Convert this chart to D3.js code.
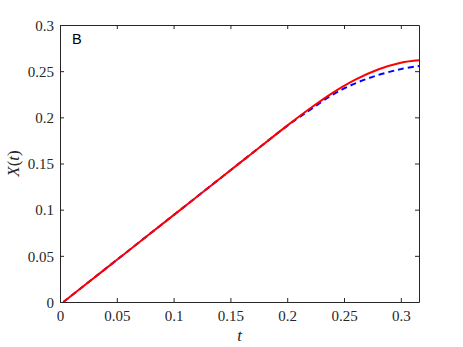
<!DOCTYPE html>
<html>
<head>
<meta charset="utf-8">
<script src="https://d3js.org/d3.v7.min.js"></script>
<style>
  body { margin: 0; background: #fff; }
  svg text { font-family: "Liberation Serif", "DejaVu Serif", serif; }
</style>
</head>
<body>
<div id="chart"></div>
<script>
// values
var tVals     = [0.003, 0.02, 0.04, 0.06, 0.08, 0.10, 0.12, 0.14, 0.16, 0.18, 0.20, 0.22, 0.24, 0.26, 0.28, 0.30, 0.316];
var solidVals = [0, 0.0165, 0.0359, 0.0553, 0.0747, 0.0941, 0.1135, 0.1329, 0.1523, 0.1717, 0.191, 0.2095, 0.2265, 0.2408, 0.2518, 0.2592, 0.2618];
var dashVals  = [0, 0.0165, 0.0359, 0.0553, 0.0747, 0.0941, 0.1135, 0.1329, 0.1523, 0.1717, 0.1908, 0.208, 0.2245, 0.2368, 0.2458, 0.2522, 0.2556];
var xTicks = [0, 0.05, 0.1, 0.15, 0.2, 0.25, 0.3];
var yTicks = [0, 0.05, 0.1, 0.15, 0.2, 0.25, 0.3];

(function() {
    var width = 463, height = 347;
    var left = 60, right = 419, top = 25, bottom = 302;
    var axisColor = "#262626";
    var serif = "'Liberation Serif', 'DejaVu Serif', serif";

    var svg = d3.select("#chart").append("svg")
        .attr("width", width)
        .attr("height", height);

    var x = d3.scaleLinear().domain([0, 0.316]).range([left, right]);
    var y = d3.scaleLinear().domain([0, 0.3]).range([bottom, top]);

    var fmt = function(d) { return d === 0 ? "0" : String(d); };

    // lines
    var solid = tVals.map(function(t, i) { return [t, solidVals[i]]; });
    var dashed = tVals.map(function(t, i) { return [t, dashVals[i]]; });

    var line = d3.line()
        .x(function(d) { return x(d[0]); })
        .y(function(d) { return y(d[1]); })
        .curve(d3.curveCatmullRom.alpha(0.5));

    svg.append("path")
        .attr("d", line(dashed))
        .attr("fill", "none")
        .attr("stroke", "#0000ff")
        .attr("stroke-width", 2)
        .attr("stroke-dasharray", "6,4");

    svg.append("path")
        .attr("d", line(solid))
        .attr("fill", "none")
        .attr("stroke", "#ff0000")
        .attr("stroke-width", 2);

    // axes, ticks inside on all four sides
    var tl = 4;
    svg.append("g")
        .attr("transform", "translate(0," + bottom + ")")
        .call(d3.axisBottom(x).tickValues(xTicks).tickSizeInner(-tl).tickSizeOuter(0).tickFormat(fmt))
        .call(function(g) {
            g.attr("font-family", serif).attr("font-size", 15);
            g.selectAll("text").attr("dy", null).attr("y", 19).attr("fill", axisColor);
        });
    svg.append("g")
        .attr("transform", "translate(0," + top + ")")
        .call(d3.axisTop(x).tickValues(xTicks).tickSizeInner(-tl).tickSizeOuter(0).tickFormat(""));
    svg.append("g")
        .attr("transform", "translate(" + left + ",0)")
        .call(d3.axisLeft(y).tickValues(yTicks).tickSizeInner(-tl).tickSizeOuter(0).tickFormat(fmt))
        .call(function(g) {
            g.attr("font-family", serif).attr("font-size", 15);
            g.selectAll("text").attr("x", -6).attr("dy", "0.35em").attr("fill", axisColor);
        });
    svg.append("g")
        .attr("transform", "translate(" + right + ",0)")
        .call(d3.axisRight(y).tickValues(yTicks).tickSizeInner(-tl).tickSizeOuter(0).tickFormat(""));

    svg.selectAll(".domain, .tick line").attr("stroke", axisColor);

    // panel letter
    svg.append("text")
        .attr("x", 72).attr("y", 44)
        .style("font-family", "'Liberation Sans', Arial, sans-serif")
        .style("font-size", "14.5px")
        .attr("fill", "#000")
        .text("B");

    // axis labels
    svg.append("text")
        .attr("x", (left + right) / 2).attr("y", 341)
        .attr("text-anchor", "middle")
        .attr("font-family", serif)
        .style("font-size", "17px").style("font-style", "italic")
        .attr("fill", axisColor)
        .text("t");

    var yl = svg.append("text")
        .attr("transform", "translate(19," + ((top + bottom) / 2) + ") rotate(-90)")
        .attr("text-anchor", "middle")
        .attr("font-family", serif)
        .style("font-size", "17px")
        .attr("fill", axisColor);
    yl.append("tspan").style("font-style", "italic").text("X");
    yl.append("tspan").text("(");
    yl.append("tspan").style("font-style", "italic").text("t");
    yl.append("tspan").text(")");
})();
</script>
</body>
</html>
